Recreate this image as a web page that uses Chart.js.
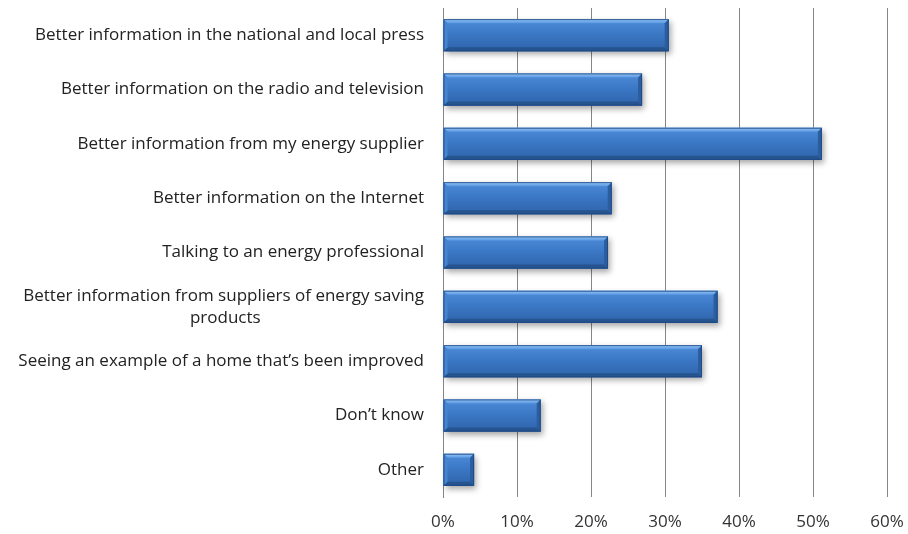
<!doctype html>
<html lang="en">
<head>
<meta charset="utf-8">
<title>Information sources</title>
<script src="https://cdn.jsdelivr.net/npm/chart.js@4.4.0/dist/chart.umd.min.js"></script>
<style>
  html, body { margin: 0; padding: 0; background: #fff; }
  #wrap { width: 908px; height: 534px; position: relative; }
</style>
</head>
<body>
<div id="wrap"><canvas id="chart"></canvas></div>
<script>
// categories, top to bottom
var categorias = [
  ['Better information in the national and local press'],
  ['Better information on the radio and television'],
  ['Better information from my energy supplier'],
  ['Better information on the Internet'],
  ['Talking to an energy professional'],
  ['Better information from suppliers of energy saving', 'products'],
  ['Seeing an example of a home that\u2019s been improved'],
  ['Don\u2019t know'],
  ['Other']
];
// share of respondents, %
var valores = [30.5, 26.9, 51.2, 22.8, 22.3, 37.1, 35.0, 13.2, 4.2];
var ticksX = [0, 10, 20, 30, 40, 50, 60];

var familia = '"Open Sans", sans-serif';
var tam = 17;

// centre the second line of wrapped labels under the first (ticks are right aligned)
var med = document.createElement('canvas').getContext('2d');
med.font = tam + 'px ' + familia;
var etiquetas = categorias.map(function (l) {
  if (l.length < 2) return l[0];
  var w1 = med.measureText(l[0]).width;
  var w2 = med.measureText(l[1]).width;
  var n = Math.round((w1 - w2) / 2 / med.measureText(' ').width);
  return [l[0], l[1] + ' '.repeat(n)];
});

// bevelled bar look
var bisel = {
  id: 'bisel',
  afterDatasetsDraw: function (chart) {
    var ctx = chart.ctx;
    chart.getDatasetMeta(0).data.forEach(function (el) {
      var x0 = el.base, x1 = el.x;
      var y0 = el.y - el.height / 2, y1 = el.y + el.height / 2;
      var b = 4;
      ctx.save();
      ctx.shadowColor = 'rgba(0,0,0,0.35)';
      ctx.shadowBlur = 6;
      ctx.shadowOffsetX = 2;
      ctx.shadowOffsetY = 3;
      var g = ctx.createLinearGradient(0, y0, 0, y1);
      g.addColorStop(0, '#4e8cd9');
      g.addColorStop(0.45, '#3b78c5');
      g.addColorStop(1, '#2f63ab');
      ctx.fillStyle = g;
      ctx.fillRect(x0, y0, x1 - x0, y1 - y0);
      ctx.restore();

      ctx.save();
      // top
      var gt = ctx.createLinearGradient(0, y0, 0, y0 + b);
      gt.addColorStop(0, '#95c6f6');
      gt.addColorStop(1, '#5a98e2');
      ctx.fillStyle = gt;
      ctx.beginPath();
      ctx.moveTo(x0, y0); ctx.lineTo(x1, y0); ctx.lineTo(x1 - b, y0 + b); ctx.lineTo(x0 + b, y0 + b);
      ctx.closePath(); ctx.fill();
      // bottom
      ctx.fillStyle = '#25548f';
      ctx.beginPath();
      ctx.moveTo(x0, y1); ctx.lineTo(x1, y1); ctx.lineTo(x1 - b, y1 - b); ctx.lineTo(x0 + b, y1 - b);
      ctx.closePath(); ctx.fill();
      // right
      ctx.fillStyle = '#2c5e9f';
      ctx.beginPath();
      ctx.moveTo(x1, y0); ctx.lineTo(x1, y1); ctx.lineTo(x1 - b, y1 - b); ctx.lineTo(x1 - b, y0 + b);
      ctx.closePath(); ctx.fill();
      // left
      ctx.fillStyle = '#4683d0';
      ctx.beginPath();
      ctx.moveTo(x0, y0); ctx.lineTo(x0, y1); ctx.lineTo(x0 + b, y1 - b); ctx.lineTo(x0 + b, y0 + b);
      ctx.closePath(); ctx.fill();
      ctx.strokeStyle = 'rgba(30,70,130,0.8)';
      ctx.lineWidth = 1;
      ctx.strokeRect(x0 + 0.5, y0 + 0.5, x1 - x0 - 1, y1 - y0 - 1);
      ctx.restore();
    });
  }
};

new Chart(document.getElementById('chart').getContext('2d'), {
  type: 'bar',
  data: {
    labels: etiquetas,
    datasets: [{
      data: valores,
      backgroundColor: '#3b78c5',
      categoryPercentage: 1,
      barPercentage: 0.59
    }]
  },
  options: {
    indexAxis: 'y',
    responsive: true,
    maintainAspectRatio: false,
    animation: false,
    layout: { padding: { top: 8, right: 21, left: 0, bottom: 0 } },
    plugins: { legend: { display: false }, tooltip: { enabled: false } },
    scales: {
      x: {
        min: 0,
        max: 60,
        afterBuildTicks: function (s) { s.ticks = ticksX.map(function (v) { return { value: v }; }); },
        ticks: {
          callback: function (v) { return v + '%'; },
          color: '#333',
          font: { family: familia, size: tam },
          padding: 15
        },
        grid: { color: '#868686', drawTicks: false },
        border: { display: false },
        afterFit: function (s) { s.height = 37; s.paddingLeft = 0; s.paddingRight = 0; }
      },
      y: {
        ticks: {
          color: '#222',
          font: { family: familia, size: tam, lineHeight: 1.3 },
          padding: 19
        },
        grid: { display: false, drawTicks: false },
        border: { display: true, color: '#868686' },
        afterFit: function (s) { s.width = 443; s.paddingTop = 0; s.paddingBottom = 0; }
      }
    }
  },
  plugins: [bisel]
});
</script>
</body>
</html>
